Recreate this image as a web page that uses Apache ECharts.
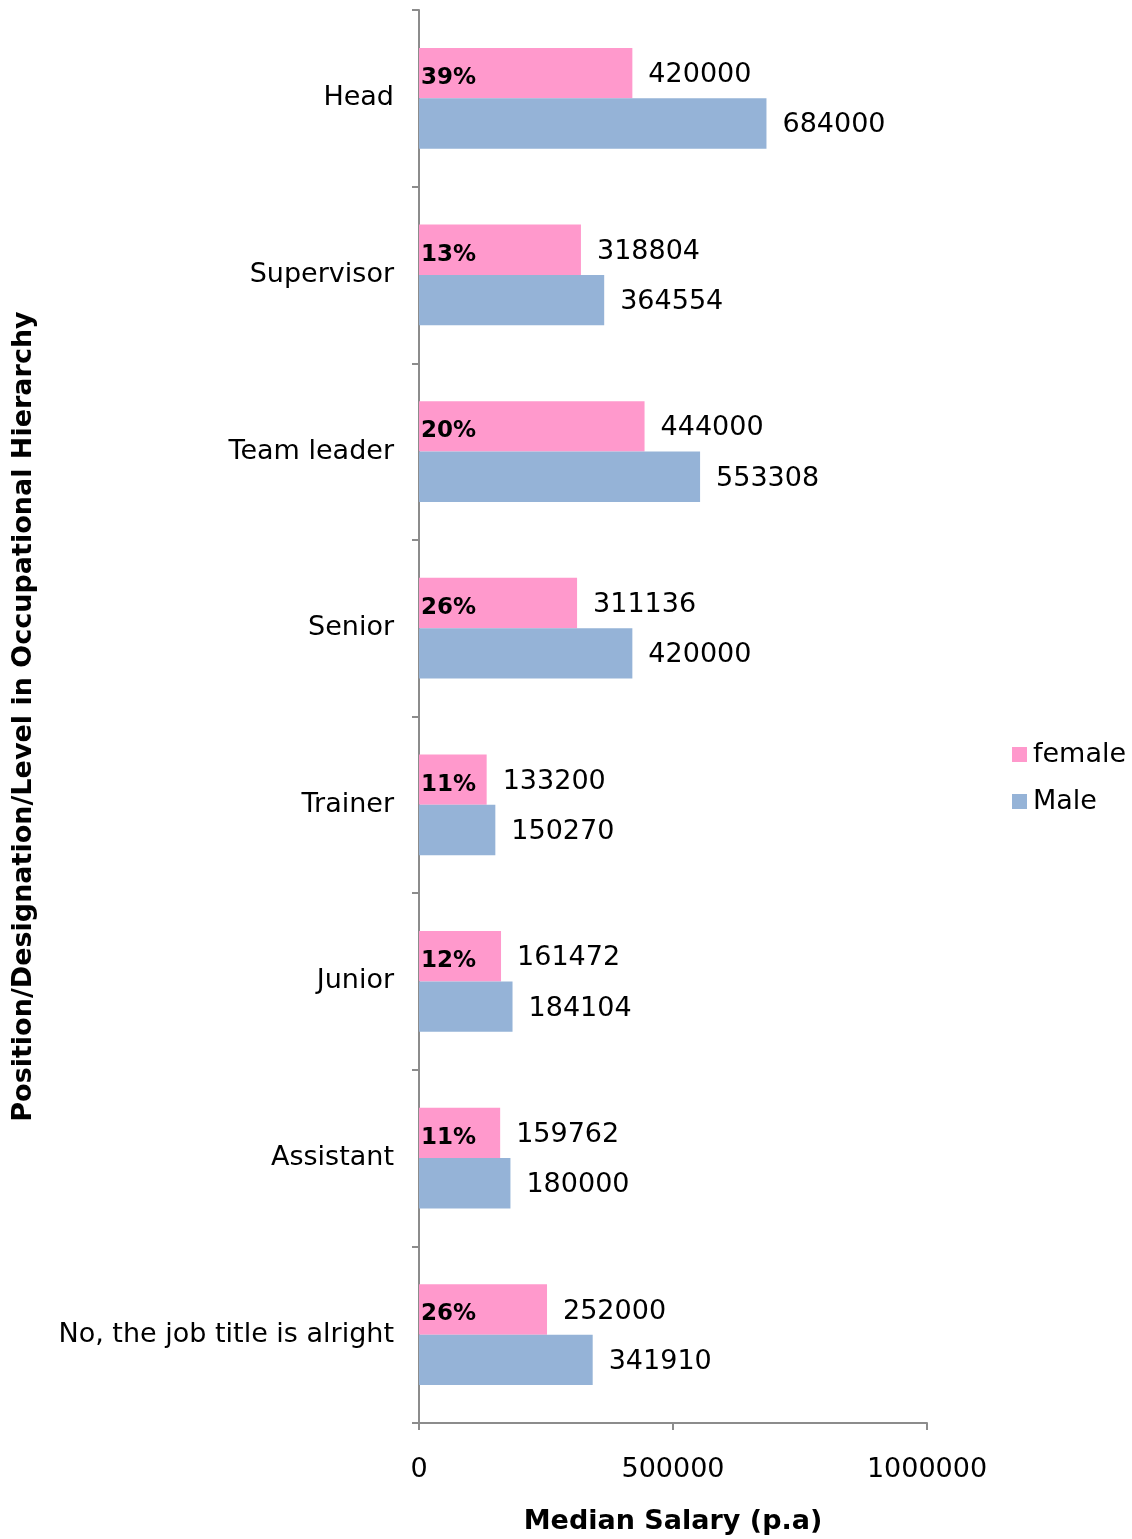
<!DOCTYPE html>
<html>
<head>
<meta charset="utf-8">
<script src="https://cdn.jsdelivr.net/npm/echarts@6/dist/echarts.min.js"></script>
<style>
  html, body { margin: 0; padding: 0; background: #fff; }
  #chart { width: 1132px; height: 1539px; }
</style>
</head>
<body>
<div id="chart"></div>
<script>
// categories from top to bottom
const positions = ['Head', 'Supervisor', 'Team leader', 'Senior', 'Trainer', 'Junior', 'Assistant', 'No, the job title is alright']
const femaleSalary = [420000, 318804, 444000, 311136, 133200, 161472, 159762, 252000]
const maleSalary = [684000, 364554, 553308, 420000, 150270, 184104, 180000, 341910]
const gapLabels = ['39%', '13%', '20%', '26%', '11%', '12%', '11%', '26%']
const xTicks = [0, 500000, 1000000]

const font = 'DejaVu Sans, Verdana, sans-serif'
const axisGrey = '#8c8c8c'
const fs = 27

let myChart = echarts.init(document.getElementById('chart'))

let option = {
  animation: false,
  textStyle: { fontFamily: font },
  legend: {
    orient: 'vertical',
    left: 1007,
    top: 736,
    itemWidth: 15,
    itemHeight: 15,
    itemGap: 20,
    icon: 'rect',
    data: ['female', 'Male'],
    textStyle: { fontSize: fs, color: '#000', fontFamily: font, padding: [0, 0, 0, 1] }
  },
  grid: {
    left: 419,
    right: 205,
    top: 10,
    bottom: 116,
    outerBoundsMode: 'none'
  },
  xAxis: {
    type: 'value',
    min: xTicks[0],
    max: xTicks[xTicks.length - 1],
    interval: xTicks[1] - xTicks[0],
    name: 'Median Salary (p.a)',
    nameLocation: 'middle',
    nameGap: 85,
    nameTextStyle: { fontSize: fs, fontWeight: 'bold', color: '#000', fontFamily: font },
    axisLine: { show: true, lineStyle: { color: axisGrey, width: 2 } },
    axisTick: { show: true, length: 7, lineStyle: { color: axisGrey, width: 2 } },
    axisLabel: { fontSize: fs, color: '#000', margin: 33, formatter: v => String(v) },
    splitLine: { show: false }
  },
  yAxis: {
    type: 'category',
    inverse: true,
    data: positions,
    name: 'Position/Designation/Level in Occupational Hierarchy',
    nameLocation: 'middle',
    nameGap: 382,
    nameTextStyle: { fontSize: fs, fontWeight: 'bold', color: '#000', fontFamily: font },
    axisLine: { show: true, lineStyle: { color: axisGrey, width: 2 } },
    axisTick: { show: true, length: 7, lineStyle: { color: axisGrey, width: 2 } },
    axisLabel: { fontSize: fs, color: '#000', margin: 25, padding: [4, 0, 0, 0] }
  },
  series: [
    {
      // zero-width bar sharing the female slot, only carries the gap label
      name: 'gap',
      type: 'bar',
      stack: 'f',
      data: positions.map(() => 0),
      itemStyle: { color: 'transparent' },
      label: {
        show: true,
        position: 'right',
        distance: 0,
        offset: [2, 5],
        fontSize: 23,
        fontWeight: 'bold',
        color: '#000',
        formatter: p => gapLabels[p.dataIndex]
      },
      silent: true
    },
    {
      name: 'female',
      type: 'bar',
      stack: 'f',
      data: femaleSalary,
      itemStyle: { color: '#FF99CC' },
      barGap: '0%',
      barCategoryGap: '43%',
      label: { show: true, position: 'right', distance: 16, offset: [0, 2], fontSize: fs, color: '#000' }
    },
    {
      name: 'Male',
      type: 'bar',
      data: maleSalary,
      itemStyle: { color: '#95B3D7' },
      barGap: '0%',
      barCategoryGap: '43%',
      label: { show: true, position: 'right', distance: 16, offset: [0, 2], fontSize: fs, color: '#000' }
    }
  ]
}

option && myChart.setOption(option)
</script>
</body>
</html>
